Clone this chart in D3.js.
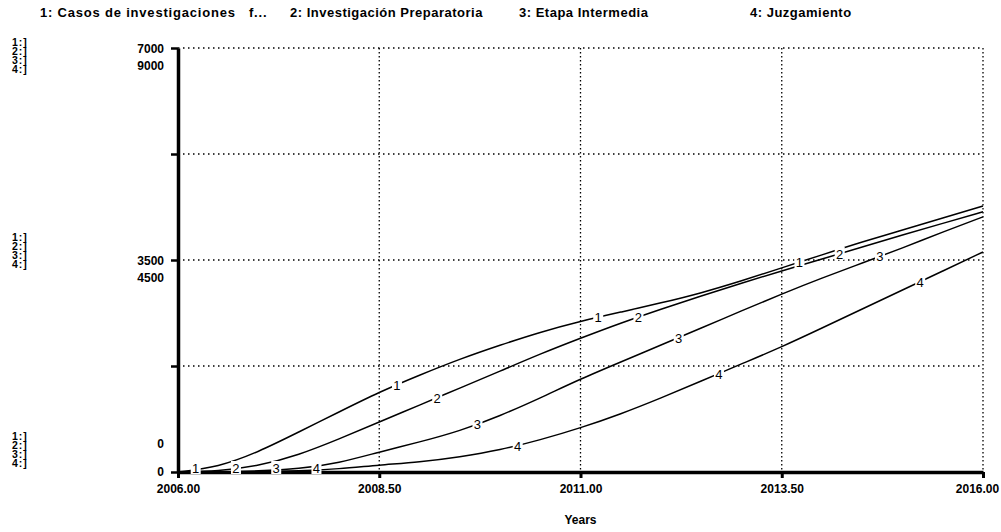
<!DOCTYPE html>
<html>
<head>
<meta charset="utf-8">
<script src="https://cdn.jsdelivr.net/npm/d3@7"></script>
<style>
  body { margin: 0; background: #fff; }
  text { font-family: "Liberation Sans", Arial, sans-serif; font-weight: bold; fill: #000; }
</style>
</head>
<body>
<svg id="chart" width="1001" height="532"></svg>
<script>
// data (half-year steps)
var years = [2006, 2006.5, 2007, 2007.5, 2008, 2008.5, 2009, 2009.5, 2010, 2010.5, 2011,
             2011.5, 2012, 2012.5, 2013, 2013.5, 2014, 2014.5, 2015, 2015.5, 2016];
// series 1 and 2 use the 0-7000 scale
var casos        = [0, 80, 330, 660, 990, 1320, 1600, 1865, 2095, 2310, 2490,
                    2640, 2790, 2955, 3155, 3370, 3585, 3800, 3995, 4195, 4390];
var preparatoria = [0, 15, 100, 280, 545, 825, 1105, 1385, 1665, 1950, 2210,
                    2460, 2690, 2905, 3120, 3320, 3515, 3715, 3915, 4105, 4295];
// series 3 and 4 use the 0-9000 scale
var intermedia   = [0, 0, 20, 65, 190, 425, 635, 870, 1190, 1570, 1975,
                    2335, 2695, 3055, 3420, 3780, 4120, 4435, 4755, 5095, 5415];
var juzgamiento  = [0, 0, 0, 20, 65, 150, 210, 320, 465, 680, 935,
                    1230, 1570, 1930, 2295, 2655, 3055, 3460, 3865, 4265, 4670];

var legendNames = ["1: Casos de investigaciones   f...", "2: Investigación Preparatoria",
                   "3: Etapa Intermedia", "4: Juzgamiento"];
var xTicks = [2006, 2008.5, 2011, 2013.5, 2016];
var scaleA = [0, 7000];
var scaleB = [0, 9000];

var svg = d3.select("svg#chart");

var plotLeft = 178, plotRight = 983, plotTop = 48, plotBottom = 472;

var x = d3.scaleLinear().domain([2006, 2016]).range([plotLeft, plotRight]);
var yA = d3.scaleLinear().domain(scaleA).range([plotBottom, plotTop]);
var yB = d3.scaleLinear().domain(scaleB).range([plotBottom, plotTop]);

var series = [
  { id: 1, values: casos, y: yA },
  { id: 2, values: preparatoria, y: yA },
  { id: 3, values: intermedia, y: yB },
  { id: 4, values: juzgamiento, y: yB }
];

svg.append("rect").attr("width", 1001).attr("height", 532).attr("fill", "#fff");

// legend along the top
var legendX = [40, 290, 519, 750];
svg.selectAll("text.legend")
  .data(legendNames)
  .enter().append("text")
  .attr("class", "legend")
  .attr("x", function(d, i) { return legendX[i]; })
  .attr("y", 17)
  .style("font-size", "13px")
  .style("letter-spacing", function(d, i) { return i === 0 ? "0.8px" : "0.5px"; })
  .style("white-space", "pre")
  .text(function(d) { return d; });

// dotted grid
var gridVals = [1750, 3500, 5250, 7000];
svg.selectAll("line.hgrid")
  .data(gridVals)
  .enter().append("line")
  .attr("x1", plotLeft).attr("x2", plotRight)
  .attr("y1", function(d) { return yA(d); })
  .attr("y2", function(d) { return yA(d); })
  .attr("stroke", "#000").attr("stroke-width", 1.3)
  .attr("stroke-dasharray", "1.5,3.5");

svg.selectAll("line.vgrid")
  .data(xTicks.slice(1))
  .enter().append("line")
  .attr("x1", function(d) { return x(d); })
  .attr("x2", function(d) { return x(d); })
  .attr("y1", plotTop).attr("y2", plotBottom)
  .attr("stroke", "#000").attr("stroke-width", 1.3)
  .attr("stroke-dasharray", "1.5,2.5");

// axes
var xAxis = svg.append("g")
  .attr("transform", "translate(0," + plotBottom + ")")
  .call(d3.axisBottom(x).tickValues(xTicks).tickFormat(d3.format(".2f"))
        .tickSize(6).tickPadding(6).tickSizeOuter(0));
xAxis.select(".domain").attr("stroke-width", 3.5);
xAxis.selectAll(".tick line").attr("stroke-width", 3);
xAxis.selectAll(".tick text")
  .style("font-size", "12px")
  .style("font-family", "'Liberation Sans', Arial, sans-serif")
  .attr("dx", function(d) { return d === 2016 ? -6 : 0; });

var yAxis = svg.append("g")
  .attr("transform", "translate(" + plotLeft + ",0)")
  .call(d3.axisLeft(yA).tickValues([0, 1750, 3500, 5250, 7000]).tickFormat("")
        .tickSize(7).tickSizeOuter(0));
yAxis.select(".domain").attr("stroke-width", 3.5);
yAxis.selectAll(".tick line").attr("stroke-width", 2.5);

// Stella style scale labels: pair 1-2 on scaleA, pair 3-4 on scaleB just below
var labelVals = [1, 0.5, 0];
labelVals.forEach(function(f) {
  var vA = scaleA[1] * f, vB = scaleB[1] * f;
  svg.append("text")
    .attr("x", 164).attr("y", yA(vA) + (f === 0 ? 4 : 5))
    .attr("text-anchor", "end")
    .style("font-size", "12px")
    .text(d3.format("d")(vA));
  svg.append("text")
    .attr("x", 164).attr("y", yB(vB) + (f === 0 ? -24 : 22))
    .attr("text-anchor", "end")
    .style("font-size", "12px")
    .text(d3.format("d")(vB));
});

// series keys at left
var groupTops = [42, 237, 436];
groupTops.forEach(function(g) {
  series.forEach(function(s, i) {
    svg.append("text")
      .attr("x", 12).attr("y", g + i * 9 + 4)
      .style("font-size", "10.5px")
      .style("letter-spacing", "1px")
      .text(s.id + ":]");
  });
});

// curves
var line = function(s) {
  return d3.line()
    .x(function(d, i) { return x(years[i]); })
    .y(function(d) { return s.y(d); })
    .curve(d3.curveBasis)(s.values);
};

svg.selectAll("path.series")
  .data(series)
  .enter().append("path")
  .attr("class", "series")
  .attr("d", function(d) { return line(d); })
  .attr("fill", "none")
  .attr("stroke", "#000")
  .attr("stroke-width", 1.5);

// number markers on the curves
function valueAt(vals, yr) {
  var i = d3.bisectRight(years, yr) - 1;
  if (i >= years.length - 1) return vals[vals.length - 1];
  var t = (yr - years[i]) / (years[i + 1] - years[i]);
  return vals[i] + t * (vals[i + 1] - vals[i]);
}

var markers = [];
series.forEach(function(s, k) {
  [0, 1, 2, 3].forEach(function(j) {
    var yr = 2006.22 + k * 0.5 + j * 2.5;
    markers.push({ id: s.id, px: x(yr), py: s.y(valueAt(s.values, yr)) });
  });
});

var mk = svg.selectAll("g.marker")
  .data(markers)
  .enter().append("g")
  .attr("transform", function(d) { return "translate(" + d.px + "," + Math.min(d.py, plotBottom - 4) + ")"; });
mk.append("rect")
  .attr("x", -5).attr("y", -7).attr("width", 10).attr("height", 13)
  .attr("fill", "#fff");
mk.append("text")
  .attr("text-anchor", "middle")
  .attr("y", 5)
  .style("font-size", "13px")
  .style("font-weight", "normal")
  .text(function(d) { return d.id; });

// axis title
svg.append("text")
  .attr("x", x(2011)).attr("y", 524)
  .attr("text-anchor", "middle")
  .style("font-size", "12px")
  .text("Years");
</script>
</body>
</html>
